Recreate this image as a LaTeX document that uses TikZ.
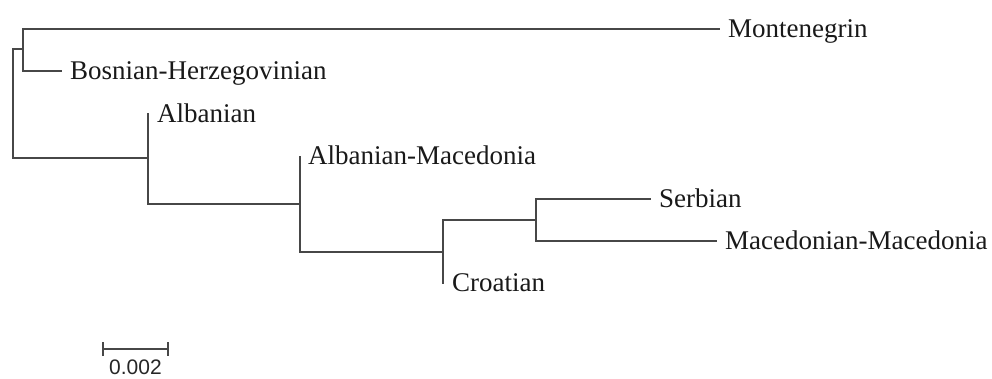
\documentclass[tikz,border=0pt]{standalone}
\usepackage{fontspec}
\setmainfont{Liberation Serif}
\newfontfamily\scalefont{Liberation Sans}
\usetikzlibrary{positioning,arrows.meta}
\tikzset{
  branch/.style={line width=1.6pt, draw=black!72},
  taxon/.style={inner sep=0pt, anchor=west, text height=17.5pt, text depth=0pt,
    font=\fontsize{27}{31}\selectfont, text=black!90},
}
\begin{document}
\begin{tikzpicture}[x=1pt,y=-1pt]
\useasboundingbox (0,0) rectangle (992,378);
% inner nodes of the tree
\coordinate (root) at (13,104);
\coordinate (nMB) at (23,49);
\coordinate (nAl) at (148,158);
\coordinate (nAM) at (300,204);
\coordinate (nCr) at (443,252);
\coordinate (nSM) at (536,220);
% tips
\coordinate (tMon) at (720,29);
\coordinate (tBos) at (62,71);
\coordinate (tAlb) at (148,113);
\coordinate (tAlM) at (300,156);
\coordinate (tCro) at (443,284);
\coordinate (tSer) at (651,199);
\coordinate (tMac) at (717,241);
% branches
\draw[branch] (root) |- (nMB);
\draw[branch] (root) |- (nAl);
\draw[branch] (nMB) |- (tMon);
\draw[branch] (nMB) |- (tBos);
\draw[branch] (nAl) -- (tAlb);
\draw[branch] (nAl) |- (nAM);
\draw[branch] (nAM) -- (tAlM);
\draw[branch] (nAM) |- (nCr);
\draw[branch] (nCr) -- (tCro);
\draw[branch] (nCr) |- (nSM);
\draw[branch] (nSM) |- (tSer);
\draw[branch] (nSM) |- (tMac);
% labels
\node[taxon, right=8pt of tMon] (lMon) {Montenegrin};
\node[taxon, right=8pt of tBos] (lBos) {Bosnian-Herzegovinian};
\node[taxon, right=9pt of tAlb, yshift=-1pt] (lAlb) {Albanian};
\node[taxon, right=8pt of tAlM] (lAlM) {Albanian-Macedonia};
\node[taxon, right=9pt of tCro, yshift=1pt] (lCro) {Croatian};
\node[taxon, right=8pt of tSer] (lSer) {Serbian};
\node[taxon, right=8pt of tMac] (lMac) {Macedonian-Macedonia};
% scale bar
\coordinate (sbL) at (102,349);
\coordinate (sbR) at (169,349);
\draw[branch, line width=1.4pt,
  {Bar[width=14pt,line width=1.6pt]}-{Bar[width=14pt,line width=1.6pt]}] (sbL) -- (sbR)
  coordinate[midway] (sbM);
\node[below=11pt of sbM, inner sep=0pt, font=\scalefont\fontsize{21}{24}\selectfont,
  text=black!85] (sbLab) {0.002};
\end{tikzpicture}
\end{document}
